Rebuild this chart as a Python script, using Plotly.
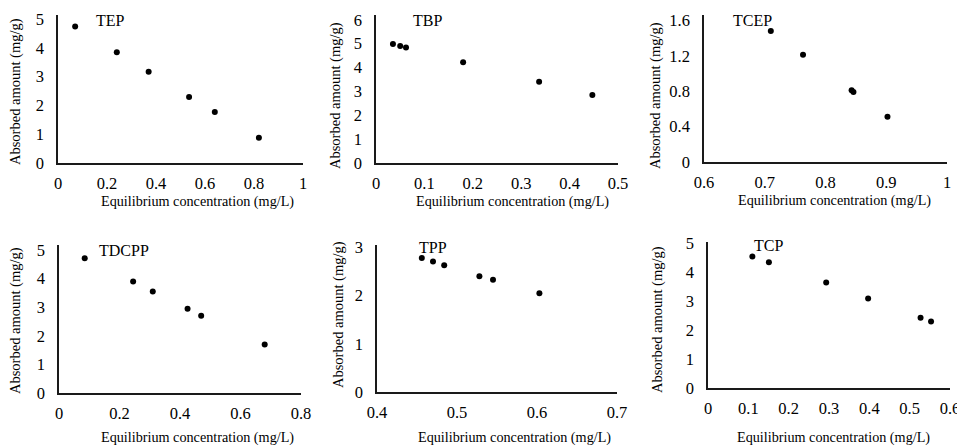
import plotly.graph_objects as go

# ---- data ----
names = ["TEP", "TBP", "TCEP", "TDCPP", "TPP", "TCP"]

tep_x = [0.07, 0.24, 0.37, 0.535, 0.64, 0.82]
tep_y = [4.74, 3.85, 3.17, 2.29, 1.77, 0.88]

tbp_x = [0.035, 0.05, 0.062, 0.18, 0.337, 0.447]
tbp_y = [4.98, 4.9, 4.84, 4.22, 3.4, 2.85]

tcep_x = [0.71, 0.763, 0.843, 0.846, 0.902]
tcep_y = [1.48, 1.21, 0.81, 0.79, 0.51]

tdcpp_x = [0.085, 0.245, 0.31, 0.425, 0.47, 0.68]
tdcpp_y = [4.72, 3.9, 3.55, 2.95, 2.7, 1.7]

tpp_x = [0.456, 0.470, 0.484, 0.528, 0.545, 0.603]
tpp_y = [2.78, 2.71, 2.63, 2.4, 2.33, 2.05]

tcp_x = [0.11, 0.151, 0.293, 0.397, 0.527, 0.553]
tcp_y = [4.55, 4.35, 3.65, 3.1, 2.43, 2.3]

xs = [tep_x, tbp_x, tcep_x, tdcpp_x, tpp_x, tcp_x]
ys = [tep_y, tbp_y, tcep_y, tdcpp_y, tpp_y, tcp_y]

x_ranges = [[0, 1], [0, 0.5], [0.6, 1], [0, 0.8], [0.4, 0.7], [0, 0.6]]
x_dticks = [0.2, 0.1, 0.1, 0.2, 0.1, 0.1]
y_ranges = [[0, 5.14], [0, 6.2], [0, 1.66], [0, 5.18], [0, 3.05], [0, 5.05]]
y_dticks = [1, 1, 0.4, 1, 1, 1]

x_title = "Equilibrium concentration (mg/L)"
y_title = "Absorbed amount (mg/g)"

# ---- layout geometry (target pixels in the 965x446 window) ----
# the page body adds an 8px margin, so the figure is drawn 8px smaller
# and every position is shifted back by that offset
OFF = 8
W, H = 965 - OFF, 446 - OFF
# (left, right, top, bottom) of each plot area
boxes = [
    (58, 303, 15, 163),
    (376, 618, 15, 163),
    (704, 947, 15, 162),
    (59, 301, 245, 393),
    (377, 617, 245, 392),
    (708, 950, 242, 388),
]
xt_pos = [(197, 202), (512, 202), (834, 200), (197, 437), (514, 437), (833, 437)]
yt_pos = [(15, 92), (335, 96), (655, 96), (15, 321), (338, 315), (657, 320)]
lab_pos = [(110, 20), (427, 21), (752, 20), (124, 250), (433, 247), (768, 245)]


def fx(px):
    return (px - OFF) / W


def fy(py):
    return 1 - (py - OFF) / H


FONT = "Liberation Serif"
axis_col = "#1a1a1a"

fig = go.Figure()
layout = dict(
    template="none",
    width=W, height=H,
    margin=dict(l=0, r=0, t=0, b=0, autoexpand=False),
    paper_bgcolor="white", plot_bgcolor="white",
    showlegend=False,
    font=dict(family=FONT, color="black"),
)
annotations = []

for i in range(6):
    k = "" if i == 0 else str(i + 1)
    l, r, t, b = boxes[i]
    fig.add_trace(go.Scatter(
        x=xs[i], y=ys[i], mode="markers",
        marker=dict(color="black", size=6),
        xaxis="x" + k, yaxis="y" + k, name=names[i],
        cliponaxis=False,
    ))
    layout["xaxis" + k] = dict(
        domain=[fx(l), fx(r)], range=x_ranges[i], anchor="y" + k,
        tick0=x_ranges[i][0], dtick=x_dticks[i], automargin=False,
        showgrid=False, zeroline=False,
        showline=True, linecolor=axis_col, linewidth=1.5,
        ticks="outside", ticklen=4, tickcolor="rgba(0,0,0,0)",
        tickfont=dict(family=FONT, size=16.5, color="black"),
    )
    layout["yaxis" + k] = dict(
        domain=[fy(b), fy(t)], range=y_ranges[i], anchor="x" + k,
        tick0=0, dtick=y_dticks[i], automargin=False,
        showgrid=False, zeroline=False,
        showline=True, linecolor=axis_col, linewidth=1.5,
        ticks="outside", ticklen=9, tickcolor="rgba(0,0,0,0)",
        tickfont=dict(family=FONT, size=16.5, color="black"),
    )
    annotations.append(dict(
        text=x_title, xref="paper", yref="paper",
        x=fx(xt_pos[i][0]), y=fy(xt_pos[i][1]),
        xanchor="center", yanchor="middle", showarrow=False,
        font=dict(family=FONT, size=14.2, color="black"),
    ))
    annotations.append(dict(
        text=y_title, xref="paper", yref="paper",
        x=fx(yt_pos[i][0]), y=fy(yt_pos[i][1]), textangle=-90,
        xanchor="center", yanchor="middle", showarrow=False,
        font=dict(family=FONT, size=14.5, color="black"),
    ))
    annotations.append(dict(
        text=names[i], xref="paper", yref="paper",
        x=fx(lab_pos[i][0]), y=fy(lab_pos[i][1]),
        xanchor="center", yanchor="middle", showarrow=False,
        font=dict(family=FONT, size=16, color="black"),
    ))

layout["annotations"] = annotations
fig.update_layout(**layout)
fig.write_html("out.html")
